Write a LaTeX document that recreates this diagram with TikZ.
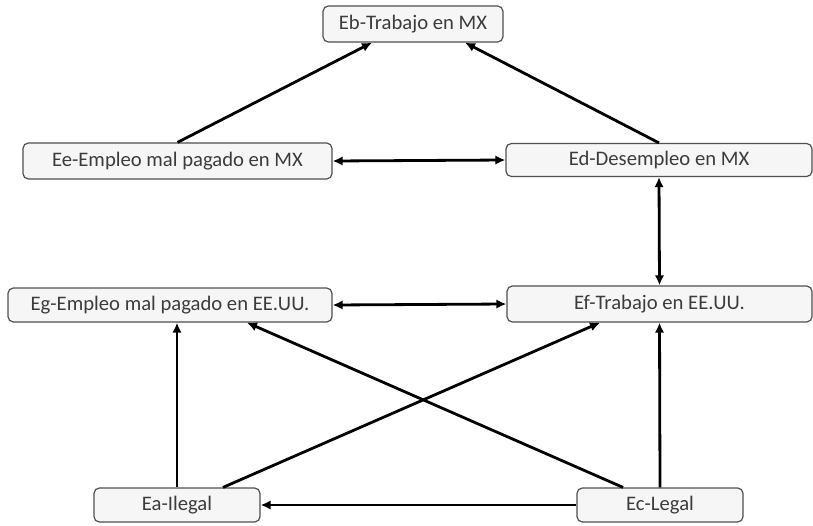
\documentclass[tikz,border=0pt]{standalone}
\usepackage{fontspec}
\setmainfont{Carlito}
\usetikzlibrary{arrows.meta,calc}

\definecolor{boxfill}{RGB}{246,246,246}
\definecolor{boxline}{RGB}{80,80,80}
\definecolor{boxtext}{RGB}{60,60,60}

\tikzset{every picture/.style={line width=0.75pt}}
\tikzset{
  estado/.style={draw=boxline, fill=boxfill, text=boxtext, rounded corners=4pt,
    line width=0.9pt, inner sep=0pt, font=\fontsize{15.5}{17}\selectfont},
  flecha/.style={line width=2.1pt, -{Latex[length=7.5pt,width=7pt]}},
  doble/.style={line width=2.1pt, {Latex[length=7.5pt,width=7pt]}-{Latex[length=7.5pt,width=7pt]}}
}

\begin{document}
\begin{tikzpicture}[x=0.75pt,y=0.75pt,yscale=-1,xscale=1]
\useasboundingbox (0,0) rectangle (813,525);

%Shape: Rectangle [Eb]
\node[estado, minimum width=135pt, minimum height=27pt] (Eb) at (413,24) {Eb-Trabajo en MX};
%Shape: Rectangle [Ee]
\node[estado, minimum width=231.75pt, minimum height=27pt] (Ee) at (177.5,161) {Ee-Empleo mal pagado en MX};
%Shape: Rectangle [Ed]
\node[estado, minimum width=229.5pt, minimum height=24.75pt] (Ed) at (659,160) {Ed-Desempleo en MX};
%Shape: Rectangle [Eg]
\node[estado, minimum width=243pt, minimum height=25.5pt] (Eg) at (170,305) {Eg-Empleo mal pagado en EE.UU.};
%Shape: Rectangle [Ef]
\node[estado, minimum width=228.75pt, minimum height=27pt] (Ef) at (659.5,304) {Ef-Trabajo en EE.UU.};
%Shape: Rectangle [Ea]
\node[estado, minimum width=124.5pt, minimum height=25.5pt] (Ea) at (177,505) {Ea-Ilegal};
%Shape: Rectangle [Ec]
\node[estado, minimum width=124.5pt, minimum height=25.5pt] (Ec) at (660,505) {Ec-Legal};

%Straight Lines [top]
\draw[flecha] (Ee.north) -- ($(Eb.south)+(-41,0)$);
\draw[flecha] (Ed.north) -- ($(Eb.south)+(52,0)$);
%Straight Lines [horizontal]
\draw[doble] (Ee.east) -- (Ed.west);
\draw[doble] (Eg.east) -- (Ef.west);
\draw[flecha] (Ec.west) -- (Ea.east);
%Straight Lines [vertical]
\draw[doble] (Ed.south) -- (Ef.north);
\draw[flecha] (Ea.north) -- ($(Eg.south)+(7,0)$);
\draw[flecha] (Ec.north) -- (Ef.south);
%Straight Lines [cross]
\draw[flecha] ($(Ea.north)+(46,0)$) -- ($(Ef.south)+(-59.5,0)$);
\draw[flecha] ($(Ec.north)+(-37,0)$) -- ($(Eg.south)+(77,0)$);

\end{tikzpicture}
\end{document}
